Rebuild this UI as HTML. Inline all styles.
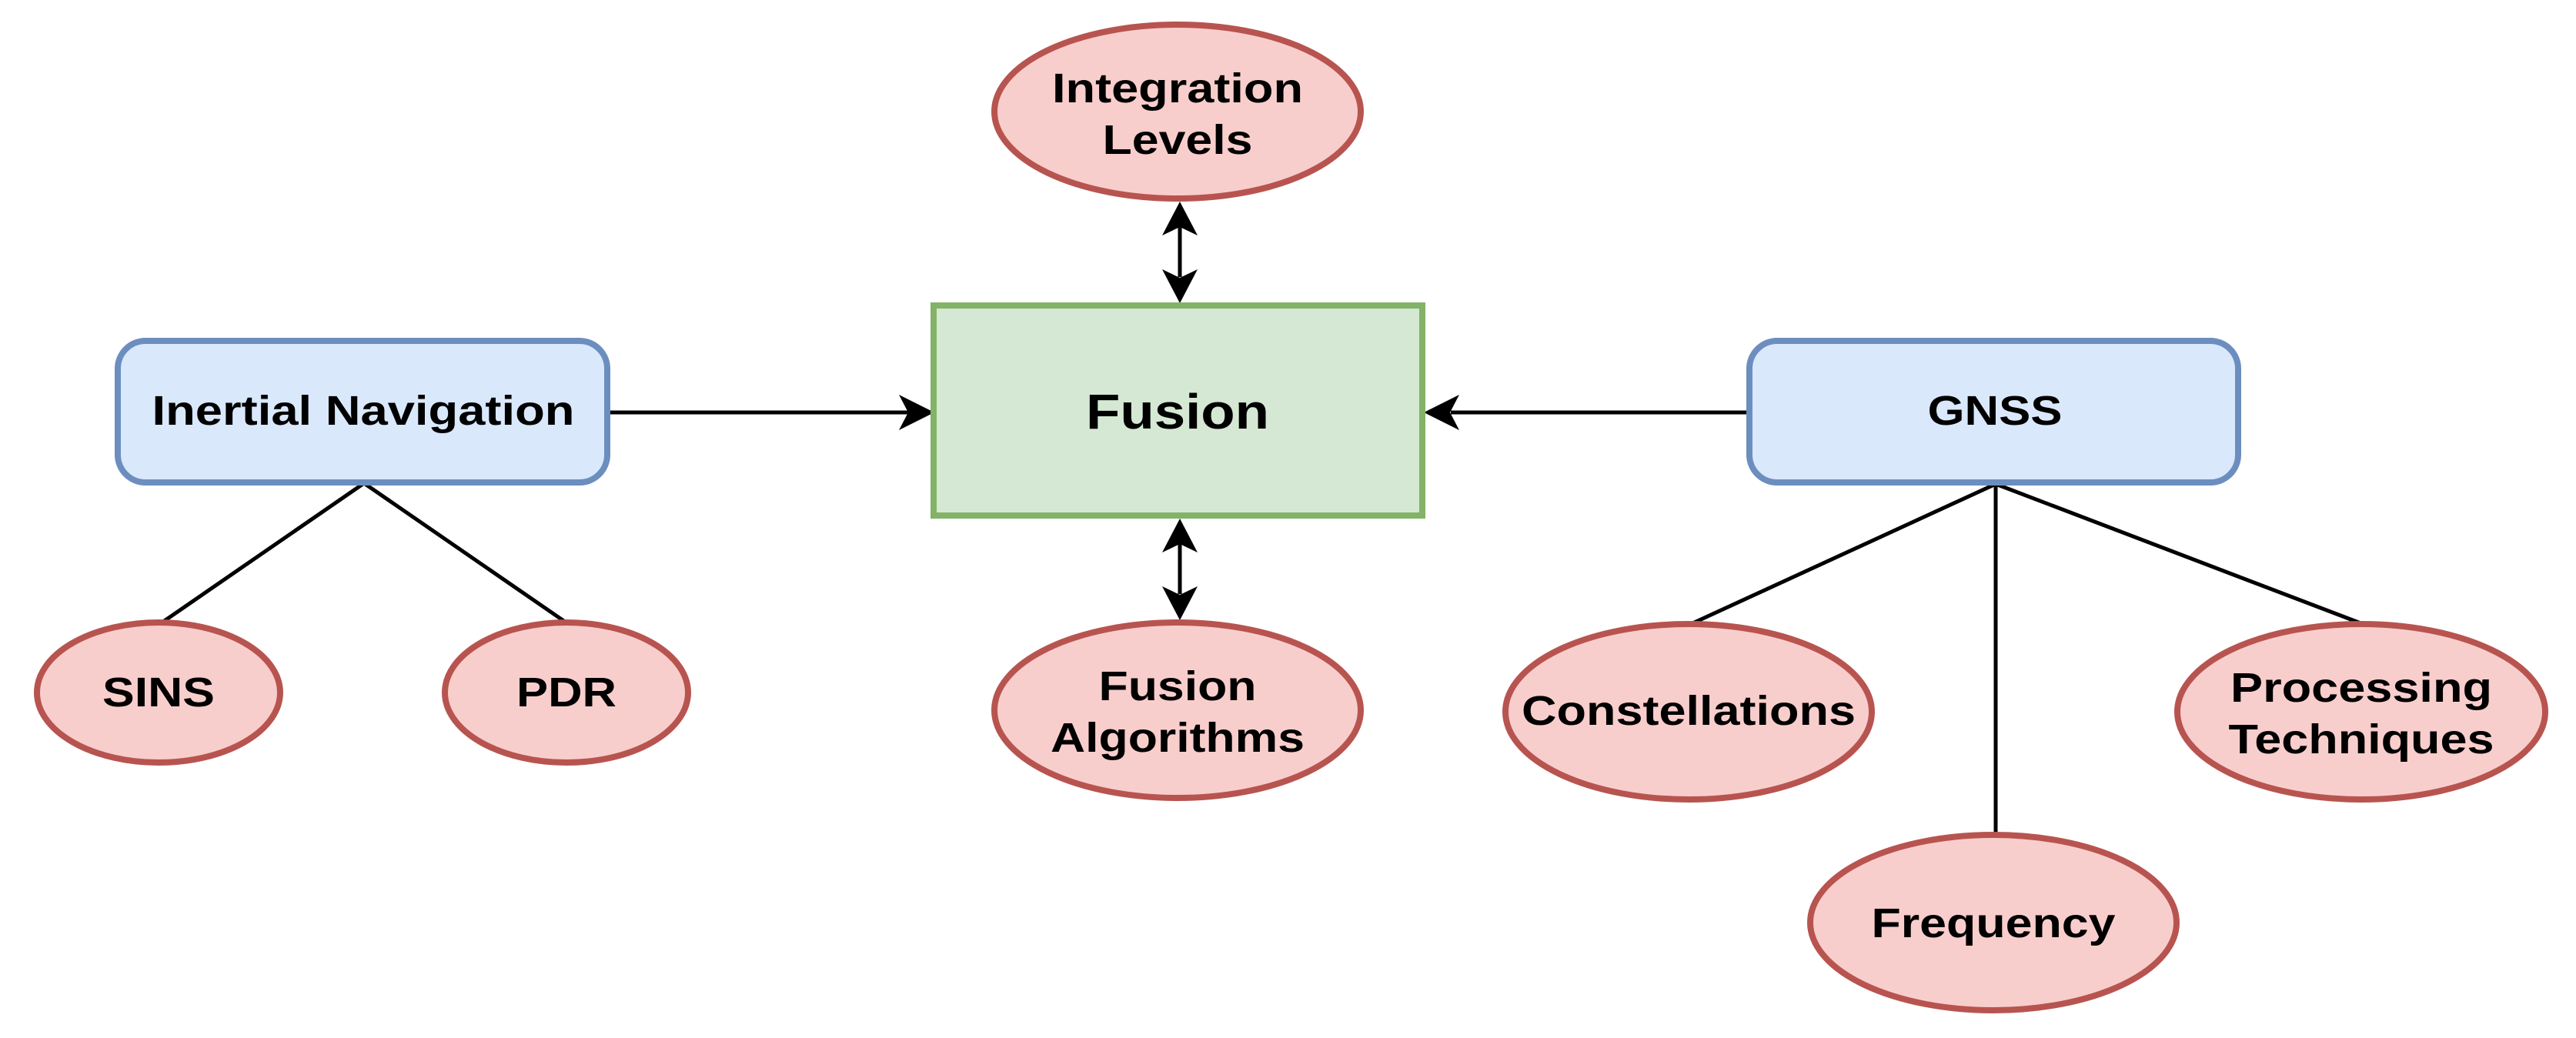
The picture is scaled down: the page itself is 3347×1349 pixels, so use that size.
<!DOCTYPE html>
<html><head><meta charset="utf-8"><style>html,body{margin:0;padding:0;background:#fff}svg{display:block}</style></head>
<body>
<svg width="3347" height="1349" viewBox="0 0 3347 1349" xmlns="http://www.w3.org/2000/svg" font-family="Liberation Sans, Arial, sans-serif" font-weight="bold">
<defs>
<marker id="ah" viewBox="0 0 20 20" refX="18" refY="10" markerWidth="11" markerHeight="11" markerUnits="userSpaceOnUse" orient="auto-start-reverse">
</marker>
</defs>
<g stroke="#000" stroke-width="5" fill="none">
<line x1="791" y1="536" x2="1180" y2="536"/>
<line x1="2271" y1="536" x2="1885" y2="536"/>
<line x1="1533" y1="295" x2="1533" y2="360"/>
<line x1="1533" y1="707" x2="1533" y2="772"/>
<line x1="473" y1="628" x2="209" y2="810"/>
<line x1="473" y1="628" x2="737" y2="810"/>
<line x1="2593" y1="629" x2="2197" y2="811"/>
<line x1="2593" y1="629" x2="3070" y2="811"/>
<line x1="2593" y1="629" x2="2593" y2="1087"/>
</g>
<g fill="#000">
<path d="M1214 536 L1168 513 L1180 536 L1168 559 Z"/>
<path d="M1850 536 L1896 513 L1884 536 L1896 559 Z"/>
<path d="M1533 262 L1510 306 L1533 295 L1556 306 Z"/>
<path d="M1533 394 L1510 350 L1533 361 L1556 350 Z"/>
<path d="M1533 674 L1510 718 L1533 707 L1556 718 Z"/>
<path d="M1533 806 L1510 762 L1533 773 L1556 762 Z"/>
</g>
<g stroke-width="8">
<rect x="1213" y="397" width="635" height="273" fill="#d5e8d4" stroke="#82b366"/>
<rect x="153" y="443" width="636" height="184" rx="36" fill="#dae8fc" stroke="#6c8ebf"/>
<rect x="2273" y="443" width="635" height="184" rx="36" fill="#dae8fc" stroke="#6c8ebf"/>
<g fill="#f8cecc" stroke="#b85450">
<ellipse cx="1530" cy="145" rx="238" ry="113"/>
<ellipse cx="206" cy="900" rx="158" ry="91"/>
<ellipse cx="736" cy="900" rx="158" ry="91"/>
<ellipse cx="1530" cy="923" rx="238" ry="114"/>
<ellipse cx="2194" cy="925" rx="238" ry="114"/>
<ellipse cx="3068" cy="925" rx="239" ry="114"/>
<ellipse cx="2590" cy="1199" rx="238" ry="114"/>
</g>
</g>
<g fill="#000" font-size="54" text-anchor="middle">
<text x="1530" y="133" textLength="326" lengthAdjust="spacingAndGlyphs">Integration</text>
<text x="1530" y="200" textLength="195" lengthAdjust="spacingAndGlyphs">Levels</text>
<text x="472" y="552" textLength="549" lengthAdjust="spacingAndGlyphs">Inertial Navigation</text>
<text x="1530" y="557" font-size="64" textLength="238" lengthAdjust="spacingAndGlyphs">Fusion</text>
<text x="2592" y="552" textLength="175" lengthAdjust="spacingAndGlyphs">GNSS</text>
<text x="206" y="918" textLength="146" lengthAdjust="spacingAndGlyphs">SINS</text>
<text x="736" y="918" textLength="130" lengthAdjust="spacingAndGlyphs">PDR</text>
<text x="1530" y="910" textLength="205" lengthAdjust="spacingAndGlyphs">Fusion</text>
<text x="1530" y="977" textLength="330" lengthAdjust="spacingAndGlyphs">Algorithms</text>
<text x="2194" y="942" textLength="434" lengthAdjust="spacingAndGlyphs">Constellations</text>
<text x="3068" y="912" textLength="340" lengthAdjust="spacingAndGlyphs">Processing</text>
<text x="3068" y="979" textLength="345" lengthAdjust="spacingAndGlyphs">Techniques</text>
<text x="2590" y="1218" textLength="317" lengthAdjust="spacingAndGlyphs">Frequency</text>
</g>
</svg>
</body></html>
